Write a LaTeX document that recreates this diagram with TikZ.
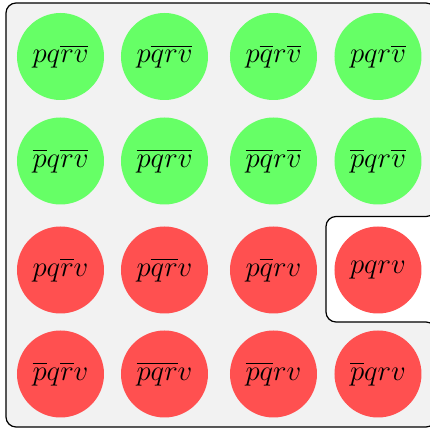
\documentclass[tikz,border=0pt]{standalone}
\usepackage{amsmath}
\definecolor{cgreen}{HTML}{66FF66}
\definecolor{cred}{HTML}{FF5050}
\definecolor{cgray}{HTML}{F2F2F2}
\tikzset{
  world/.style={circle, minimum size=43.5pt, inner sep=0pt, font=\Large},
  good/.style={world, fill=cgreen},
  bad/.style={world, fill=cred},
  region/.style={draw=black, line width=0.6pt, fill=cgray, rounded corners=5pt}
}
\begin{document}
\begin{tikzpicture}[x=0.5pt,y=-0.5pt]
\useasboundingbox (0,0) rectangle (430,428);
\draw[region] (6,3) -- (436,3) -- (436,216.5) -- (326,216.5) -- (326,322) -- (436,322) -- (436,427) -- (6,427) -- cycle;
% row 1
\node[good] (a1) at (60.5,56.5) {$pq\overline{r}\overline{v}$};
\node[good] (a2) at (164.5,56.5) {$p\overline{q}\overline{r}\overline{v}$};
\node[good] (a3) at (273.5,56.5) {$p\overline{q}r\overline{v}$};
\node[good] (a4) at (378,56.5) {$pqr\overline{v}$};
% row 2
\node[good] (b1) at (60.5,161) {$\overline{p}q\overline{r}\overline{v}$};
\node[good] (b2) at (164.5,161) {$\overline{p}\overline{q}\overline{r}\overline{v}$};
\node[good] (b3) at (273.5,161) {$\overline{p}\overline{q}r\overline{v}$};
\node[good] (b4) at (378,161) {$\overline{p}qr\overline{v}$};
% row 3
\node[bad] (c1) at (60.5,270) {$pq\overline{r}v$};
\node[bad] (c2) at (164.5,270) {$p\overline{q}\overline{r}v$};
\node[bad] (c3) at (273.5,270) {$p\overline{q}rv$};
\node[bad] (c4) at (378,270) {$pqrv$};
% row 4
\node[bad] (d1) at (60.5,374) {$\overline{p}q\overline{r}v$};
\node[bad] (d2) at (164.5,374) {$\overline{p}\overline{q}\overline{r}v$};
\node[bad] (d3) at (273.5,374) {$\overline{p}\overline{q}rv$};
\node[bad] (d4) at (378,374) {$\overline{p}qrv$};
\end{tikzpicture}
\end{document}
